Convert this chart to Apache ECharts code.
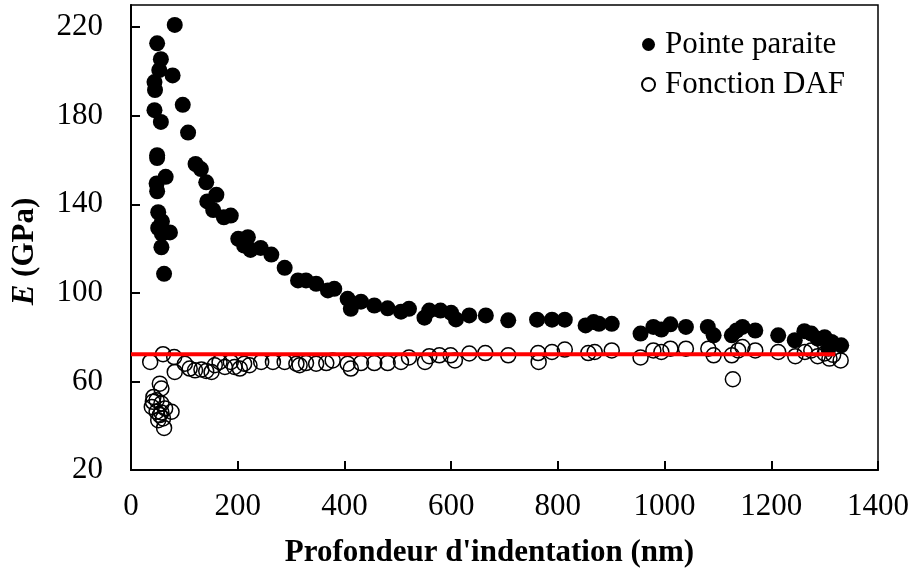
<!DOCTYPE html>
<html>
<head>
<meta charset="utf-8">
<script src="https://cdn.jsdelivr.net/npm/echarts@6/dist/echarts.min.js"></script>
<style>
  html, body { margin: 0; padding: 0; background: #fff; }
  #chart { width: 912px; height: 574px; }
</style>
</head>
<body>
<div id="chart"></div>
<script>
// Pointe parfaite (filled circles): depth (nm), E (GPa)
const depthTip = [82, 49, 56, 53, 78, 44, 45, 97, 44, 56, 107, 49, 49, 121, 131, 65, 48, 49, 141, 160,
  143, 154, 174, 187, 51, 58, 51, 73, 58, 57, 62, 201, 219, 212, 224, 243, 263, 288, 313, 328,
  347, 369, 381, 406, 412, 431, 456, 481, 506, 521, 550, 559, 580, 600, 609, 634, 665, 707, 761, 789,
  813, 852, 867, 877, 901, 955, 979, 994, 1011, 1040, 1081, 1092, 1126, 1135, 1146, 1170, 1213, 1244, 1262, 1275,
  1287, 1300, 1313, 1307, 1331];
const modulusTip = [221, 212.7, 205.5, 200.6, 198.2, 195.2, 191.6, 184.9, 182.5, 177.2, 172.4, 162.2, 160.9, 158.2, 155.9, 152.4, 149.4, 145.9, 149.9, 144.3,
  141.3, 137.4, 134.1, 134.9, 136.4, 132.3, 129.3, 127.3, 126.6, 120.6, 108.6, 124.4, 125.1, 121.4, 119.4, 120.3, 117.3, 111.3, 105.6, 105.6,
  104.1, 101.1, 101.8, 97.3, 92.8, 96, 94.3, 93, 91.5, 92.8, 88.8, 92, 92, 91, 88, 89.8, 89.8, 87.6, 87.9, 87.9,
  87.9, 85.3, 86.8, 86, 86, 81.6, 84.6, 83.4, 85.8, 84.6, 84.6, 80.8, 80.8, 83, 84.6, 83, 80.8, 78.6, 82.7, 81.6,
  79.3, 80, 77.8, 74.8, 76.3];

// Fonction DAF (open circles)
const depthDaf = [36, 60, 81, 82, 101, 110, 120, 132, 141, 151, 157, 166, 176, 187, 194, 204, 212, 222, 244, 266,
  288, 310, 54, 57, 42, 48, 39, 57, 64, 76, 48, 54, 60, 51, 62, 41, 57, 316, 328, 347,
  366, 378, 406, 412, 431, 456, 481, 506, 521, 551, 559, 578, 599, 607, 634, 664, 707, 763, 764, 789,
  813, 857, 869, 901, 955, 979, 994, 1011, 1040, 1082, 1092, 1126, 1128, 1138, 1146, 1170, 1213, 1245, 1263, 1275,
  1287, 1300, 1309, 1316, 1330];
const modulusDaf = [68.8, 72.3, 71, 64.3, 68, 65.8, 65, 65.4, 64.7, 64.3, 67.3, 68.8, 66.5, 68.8, 66.5, 65.8, 68, 67.3, 68.8, 68.8,
  68.8, 68, 59, 56.8, 53, 51.5, 48.5, 50, 47.8, 46.3, 46.3, 44.8, 43.3, 42.5, 39, 50.8, 46, 67.3, 68.3, 68,
  68.3, 69.5, 68, 65.8, 68.3, 68.3, 68.3, 68.8, 70.8, 68.8, 71.4, 71.8, 71.8, 69.5, 72.6, 72.8, 71.8, 72.8, 68.8, 73.3,
  74.4, 72.8, 73.3, 74, 70.8, 74, 73.3, 74.8, 74.8, 74.8, 71.8, 71.8, 61, 74, 75.5, 74, 73.3, 71.4, 73.3, 74,
  71.4, 72.6, 70.3, 72, 69.5];

// reference modulus line
const refDepth = [0, 1320];
const refModulus = [72.3, 72.3];

const yTicks = [20, 60, 100, 140, 180, 220];

const font = 'Liberation Serif';
const chart = echarts.init(document.getElementById('chart'));

const zip = (xs, ys) => xs.map((x, i) => [x, ys[i]]);

chart.setOption({
  animation: false,
  textStyle: { fontFamily: font },
  grid: {
    left: 131, right: 33, top: 5, bottom: 104,
    show: true, borderColor: '#000', borderWidth: 1.5,
  },
  legend: {
    orient: 'vertical',
    right: 62,
    top: 24,
    itemWidth: 13,
    itemHeight: 13,
    itemGap: 9,
    data: ['Pointe paraite', 'Fonction DAF'],
    textStyle: { fontFamily: font, fontSize: 31, color: '#000', padding: [0, 0, 0, 5] },
  },
  xAxis: {
    type: 'value',
    min: 0,
    max: 1400,
    interval: 200,
    name: "Profondeur d'indentation (nm)",
    nameLocation: 'middle',
    nameGap: 67,
    nameTextStyle: { fontFamily: font, fontSize: 31, fontWeight: 'bold', color: '#000', padding: [0, 30, 0, 0] },
    axisLine: { lineStyle: { color: '#000', width: 2 } },
    axisTick: { inside: true, length: 9, lineStyle: { color: '#000', width: 2 } },
    axisLabel: { fontFamily: font, fontSize: 31, color: '#000', margin: 21, formatter: v => String(v) },
    splitLine: { show: false },
  },
  yAxis: {
    type: 'value',
    min: 20,
    max: 230,
    interval: 40,
    name: '{i|E} (GPa)',
    nameLocation: 'middle',
    nameGap: 91,
    nameRotate: 90,
    nameTextStyle: {
      fontFamily: font, fontSize: 31, fontWeight: 'bold', color: '#000', padding: [0, 28, 0, 0],
      rich: { i: { fontFamily: font, fontSize: 31, fontWeight: 'bold', fontStyle: 'italic', color: '#000' } },
    },
    axisLine: { lineStyle: { color: '#000', width: 2 } },
    axisTick: { inside: true, length: 9, lineStyle: { color: '#000', width: 2 }, customValues: yTicks },
    axisLabel: { fontFamily: font, fontSize: 31, color: '#000', margin: 28, customValues: yTicks },
    splitLine: { show: false },
  },
  series: [
    {
      name: 'Pointe paraite',
      type: 'scatter',
      symbol: 'circle',
      symbolSize: 16,
      itemStyle: { color: '#000', opacity: 1 },
      data: zip(depthTip, modulusTip),
    },
    {
      name: 'Fonction DAF',
      type: 'scatter',
      symbol: 'circle',
      symbolSize: 15,
      itemStyle: { color: 'rgba(255,255,255,0)', borderColor: '#000', borderWidth: 1.5, opacity: 1 },
      data: zip(depthDaf, modulusDaf),
    },
    {
      name: 'ref',
      type: 'line',
      symbol: 'none',
      lineStyle: { color: '#ff0000', width: 4 },
      data: zip(refDepth, refModulus),
    },
  ],
});
</script>
</body>
</html>
